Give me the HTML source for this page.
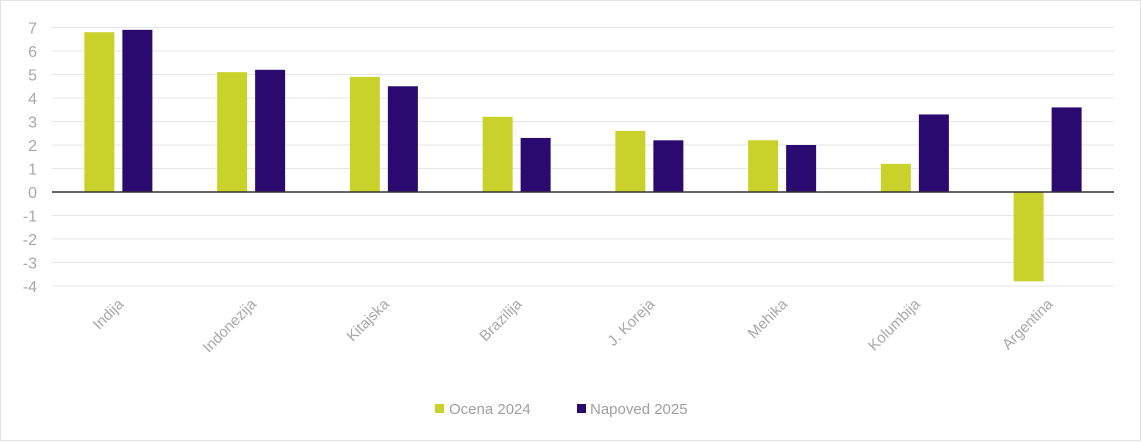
<!DOCTYPE html>
<html><head><meta charset="utf-8"><style>
body{margin:0;background:#fff;}
svg{display:block;font-family:"Liberation Sans",Arial,sans-serif;}
</style></head><body>
<svg width="1141" height="442">
<rect x="0.5" y="0.5" width="1140" height="440" fill="#fff" stroke="#e2e2e2"/>
<g id="grid"></g><g id="bars"></g><g id="labels"></g>
<g>
<rect x="435" y="404" width="9" height="9" fill="#c9d12b"/>
<text x="449" y="414" font-size="15" fill="#a0a0a0">Ocena 2024</text>
<rect x="577" y="404" width="9" height="9" fill="#2a0a6e"/>
<text x="590" y="414" font-size="15" fill="#a0a0a0">Napoved 2025</text>
</g>
</svg>
<script>
const categories=["Indija","Indonezija","Kitajska","Brazilija","J. Koreja","Mehika","Kolumbija","Argentina"];
const ocena2024=[6.8,5.1,4.9,3.2,2.6,2.2,1.2,-3.8];
const napoved2025=[6.9,5.2,4.5,2.3,2.2,2.0,3.3,3.6];
const yTicks=[7,6,5,4,3,2,1,0,-1,-2,-3,-4];
const NS="http://www.w3.org/2000/svg";
const L=52,R=1114,y0=192,unit=23.5;
const y=v=>y0-v*unit;
const bandW=(R-L)/categories.length;
const cx=i=>L+bandW*(i+0.5);
function mk(t,a,p){const e=document.createElementNS(NS,t);for(const k in a)e.setAttribute(k,a[k]);p.appendChild(e);return e;}
const grid=document.getElementById('grid'),bars=document.getElementById('bars'),labels=document.getElementById('labels');
yTicks.forEach(v=>{
 if(v!==0){const g=mk('line',{x1:L,x2:R,y1:y(v),y2:y(v),stroke:'#e6e6e6','stroke-width':1},grid);
 
 }
 const t=mk('text',{x:37,y:y(v)+6,'text-anchor':'end','font-size':16,fill:'#a8a8a8'},grid);
 t.textContent=v;
 
 
});
categories.forEach((c,i)=>{
 [[ocena2024[i],'#c9d12b',-34],[napoved2025[i],'#2a0a6e',4]].forEach(([v,col,off],s)=>{
  const r=mk('rect',{x:cx(i)+off,y:Math.min(y(v),y0),width:30,height:Math.abs(y(v)-y0),fill:col},bars);
  
  
 });
 const t=mk('text',{x:cx(i)+6,y:305,'text-anchor':'end','font-size':15,fill:'#a8a8a8',transform:`rotate(-45 ${cx(i)+6} 305)`},labels);
 t.textContent=c;
 
 
});
const ax=mk('line',{x1:L,x2:R,y1:y0,y2:y0,stroke:'#333','stroke-width':1.5},bars);


</script>
</body></html>
